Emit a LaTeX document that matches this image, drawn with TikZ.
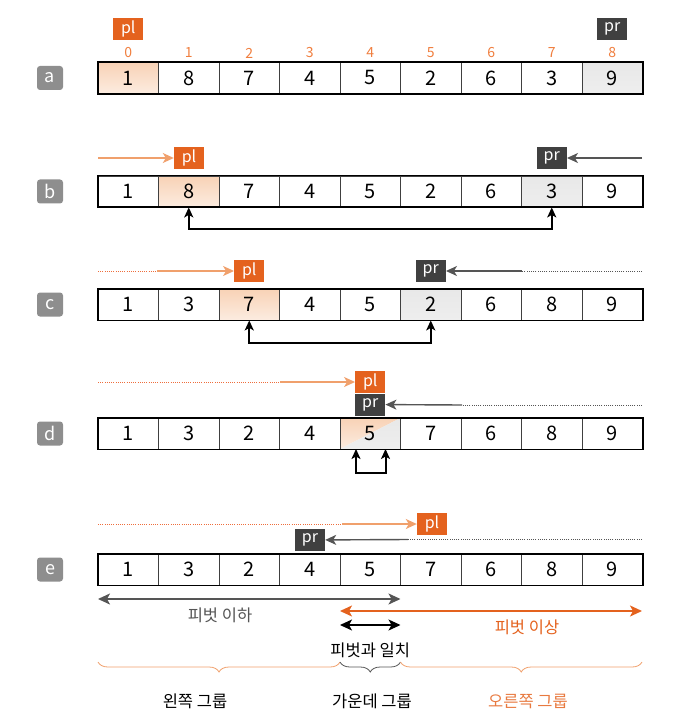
\documentclass[tikz,border=0pt]{standalone}
\usepackage{fontspec}
\setmainfont{Noto Sans CJK KR}
\usetikzlibrary{arrows.meta,decorations.pathreplacing}
\definecolor{plbox}{RGB}{228,98,30}
\definecolor{prbox}{RGB}{64,64,64}
\definecolor{plline}{RGB}{240,160,108}
\definecolor{prline}{RGB}{85,85,85}
\definecolor{pldot}{RGB}{238,110,60}
\definecolor{idxcol}{RGB}{240,126,62}
\definecolor{tagcol}{RGB}{142,142,142}
\definecolor{pltop}{RGB}{248,210,182}
\definecolor{plmid}{RGB}{240,178,132}
\definecolor{plbot}{RGB}{252,236,224}
\definecolor{prtop}{RGB}{232,232,232}
\definecolor{prmid}{RGB}{176,176,176}
\definecolor{prbot}{RGB}{238,238,238}
\tikzstyle{cell}=[draw=black!75,line width=0.8pt,minimum width=60.5pt,minimum height=31pt,inner sep=0pt,font=\fontsize{20}{24}\selectfont]
\tikzstyle{plain}=[]
\tikzstyle{plcell}=[top color=pltop,middle color=plmid,bottom color=plbot]
\tikzstyle{prcell}=[top color=prtop,middle color=prmid,bottom color=prbot]
\tikzstyle{bothcell}=[path picture={
  \shade[top color=pltop,middle color=plmid,bottom color=plbot] (path picture bounding box.north west) -- (path picture bounding box.north east) -- (path picture bounding box.south west) -- cycle;
  \shade[top color=prtop,middle color=prmid,bottom color=prbot] (path picture bounding box.north east) -- (path picture bounding box.south east) -- (path picture bounding box.south west) -- cycle;}]
\tikzstyle{outer}=[draw=black,line width=1.8pt]
\tikzstyle{tag}=[fill=tagcol,rounded corners=3pt,text=white,minimum width=26pt,minimum height=24pt,inner sep=0pt,font=\fontsize{18}{20}\selectfont]
\tikzstyle{pl}=[fill=plbox,text=white,minimum width=30pt,minimum height=22pt,inner sep=0pt,font=\fontsize{16}{18}\selectfont]
\tikzstyle{pr}=[pl,fill=prbox]
\tikzstyle{idx}=[text=idxcol,inner sep=0pt,font=\fontsize{14}{16}\selectfont]
\tikzstyle{plarrow}=[plline,line width=1.4pt,-{Stealth[length=11pt,width=10pt,inset=3pt]}]
\tikzstyle{prarrow}=[prline,line width=1.4pt,-{Stealth[length=11pt,width=10pt,inset=3pt]}]
\tikzstyle{pldots}=[pldot,line width=1pt,dash pattern=on 1pt off 1.2pt]
\tikzstyle{prdots}=[prline,line width=1pt,dash pattern=on 1pt off 1.2pt]
\tikzstyle{swaparrow}=[black,line width=2pt,{Stealth[length=10pt,width=9pt,inset=2.5pt]}-{Stealth[length=10pt,width=9pt,inset=2.5pt]}]
\tikzstyle{spanarrow}=[line width=1.6pt,{Stealth[length=12pt,width=11pt,inset=3pt]}-{Stealth[length=12pt,width=11pt,inset=3pt]}]
\tikzstyle{txt}=[inner sep=0pt,font=\fontsize{16.5}{19}\selectfont]
\tikzstyle{grp}=[decorate,decoration={brace,amplitude=10pt},line width=0.8pt]

\newcommand{\cellrow}[3]{%
  \foreach \v/\s [count=\i from 0] in {#3}
    \node (#1\i) [cell,\s] at ({128.25+60.5*\i},#2) {\v};
  \draw[outer] (#10.north west) rectangle (#18.south east);}

\begin{document}
\begin{tikzpicture}[x=1pt,y=-1pt]
\useasboundingbox (0,0) rectangle (681,727);

% a: start
\node (ta) [tag] at (50,78) {a};
\cellrow{a}{78}{1/plcell,8/plain,7/plain,4/plain,5/plain,2/plain,6/plain,3/plain,9/prcell}
\foreach \i in {0,...,8}
  \node (i\i) [idx] at ({128.25+60.5*\i},53) {\i};
\node (plA) [pl] at (128.25,29) {pl};
\node (prA) [pr] at (612.25,29) {pr};

% b: first swap
\node (tb) [tag] at (50,191.5) {b};
\cellrow{b}{191.5}{1/plain,8/plcell,7/plain,4/plain,5/plain,2/plain,6/plain,3/prcell,9/plain}
\node (plB) [pl] at (189,158) {pl};
\node (prB) [pr] at (551.75,158) {pr};
\coordinate (pb0) at (98,158);
\coordinate (qb0) at (642,158);
\draw[plarrow] (pb0) -- (plB);
\draw[prarrow] (qb0) -- (prB);
\draw[swaparrow] (b1.south) -- ++(0,22) -| (b7.south);

% c: second swap
\node (tc) [tag] at (50,304.5) {c};
\cellrow{c}{304.5}{1/plain,3/plain,7/plcell,4/plain,5/plain,2/prcell,6/plain,8/plain,9/plain}
\node (plC) [pl] at (249.25,271) {pl};
\node (prC) [pr] at (430.75,271) {pr};
\coordinate (pc0) at (98,271);
\coordinate (pc1) at (157,271);
\coordinate (qc0) at (642,271);
\coordinate (qc1) at (522,271);
\draw[pldots] (pc0) -- (pc1);
\draw[plarrow] (pc1) -- (plC);
\draw[prdots] (qc0) -- (qc1);
\draw[prarrow] (qc1) -- (prC);
\draw[swaparrow] (c2.south) -- ++(0,23) -| (c5.south);

% d: pl and pr meet
\node (td) [tag] at (50,433.5) {d};
\cellrow{d}{433.5}{1/plain,3/plain,2/plain,4/plain,5/bothcell,7/plain,6/plain,8/plain,9/plain}
\node (plD) [pl] at (370.25,382) {pl};
\node (prD) [pr] at (370.25,404.5) {pr};
\coordinate (pd0) at (98,382);
\coordinate (pd1) at (280,382);
\coordinate (qd0) at (642,405);
\coordinate (qd1) at (462,405);
\draw[pldots] (pd0) -- (pd1);
\draw[plarrow] (pd1) -- (plD);
\draw[prdots] (qd0) -- (qd1);
\draw[prarrow] (qd1) -- (prD);
\coordinate (sd0) at (356,449);
\coordinate (sd1) at (385.5,449);
\draw[swaparrow] (sd0) -- ++(0,24) -| (sd1);

% e: pl and pr crossed
\node (te) [tag] at (50,569.5) {e};
\cellrow{e}{569.5}{1/plain,3/plain,2/plain,4/plain,5/plain,7/plain,6/plain,8/plain,9/plain}
\node (plE) [pl] at (432,524) {pl};
\node (prE) [pr] at (310,540) {pr};
\coordinate (pe0) at (98,524);
\coordinate (pe1) at (342,524);
\coordinate (qe0) at (642,539.5);
\coordinate (qe1) at (408,539.5);
\draw[pldots] (pe0) -- (pe1);
\draw[plarrow] (pe1) -- (plE);
\draw[prdots] (qe0) -- (qe1);
\draw[prarrow] (qe1) -- (prE);

% ranges and groups
\coordinate (lo0) at (98,599);
\coordinate (lo1) at (400.5,599);
\coordinate (hi0) at (340,611);
\coordinate (hi1) at (642,611);
\coordinate (eq0) at (340,625);
\coordinate (eq1) at (400.5,625);
\draw[spanarrow,prline] (lo0) -- (lo1);
\draw[spanarrow,plbox] (hi0) -- (hi1);
\draw[spanarrow,black,line width=1.3pt] (eq0) -- (eq1);
\node (lotxt) [txt,prline] at (220,615) {피벗 이하};
\node (hitxt) [txt,plbox] at (527,627) {피벗 이상};
\node (eqtxt) [txt] at (370.25,650) {피벗과 일치};

\coordinate (g0) at (98,662);
\coordinate (g1) at (340,662);
\coordinate (g2) at (400.5,662);
\coordinate (g3) at (642,662);
\draw[grp,plline] (g1) -- (g0);
\draw[grp,prline] (g2) -- (g1);
\draw[grp,plline] (g3) -- (g2);
\node (leftgrp) [txt] at (195,701) {왼쪽 그룹};
\node (midgrp) [txt] at (372,701) {가운데 그룹};
\node (rightgrp) [txt,plbox!85!white] at (528,701) {오른쪽 그룹};
\end{tikzpicture}
\end{document}
